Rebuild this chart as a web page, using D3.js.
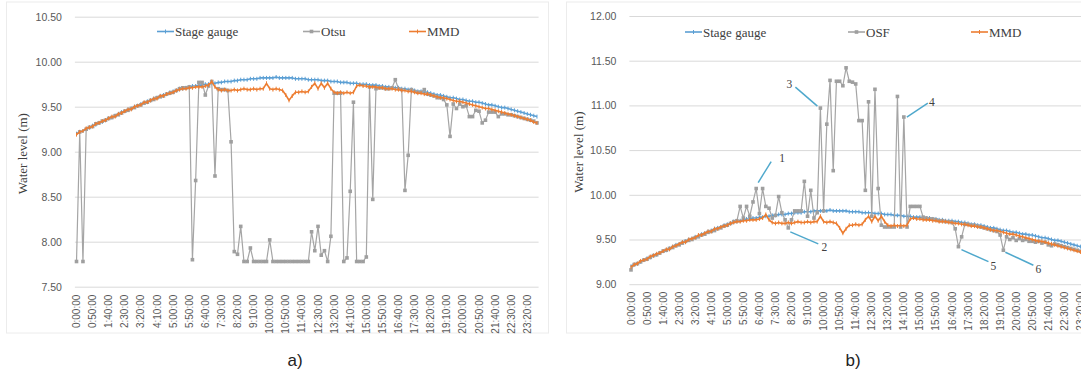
<!DOCTYPE html>
<html><head><meta charset="utf-8">
<script src="https://cdn.jsdelivr.net/npm/d3@7/dist/d3.min.js"></script>
<style>body{margin:0;background:#fff}svg{display:block}</style>
</head><body>
<svg id="chart" width="1081" height="372"></svg>
<script>
// ---------- data ----------
// categories: 10-minute timestamps from 0:00:00 to 23:50:00
const categories = d3.range(144).map(i => `${Math.floor(i / 6)}:${String((i % 6) * 10).padStart(2, "0")}:00`);
const tickLabels = ["0:00:00","0:50:00","1:40:00","2:30:00","3:20:00","4:10:00","5:00:00","5:50:00","6:40:00","7:30:00",
  "8:20:00","9:10:00","10:00:00","10:50:00","11:40:00","12:30:00","13:20:00","14:10:00","15:00:00","15:50:00",
  "16:40:00","17:30:00","18:20:00","19:10:00","20:00:00","20:50:00","21:40:00","22:30:00","23:20:00"];
const yTicksA = [7.5, 8.0, 8.5, 9.0, 9.5, 10.0, 10.5];
const yTicksB = [9.0, 9.5, 10.0, 10.5, 11.0, 11.5, 12.0];
const seriesNamesA = ["Stage gauge", "Otsu", "MMD"];
const seriesNamesB = ["Stage gauge", "OSF", "MMD"];

const stageGauge = [
  9.20,9.22,9.23,9.25,9.27,9.29,9.30,9.32,9.33,9.35,
  9.37,9.38,9.40,9.42,9.44,9.45,9.47,9.48,9.50,9.51,
  9.53,9.54,9.56,9.57,9.59,9.60,9.62,9.63,9.64,9.66,
  9.67,9.68,9.70,9.70,9.71,9.72,9.73,9.73,9.74,9.74,
  9.75,9.75,9.76,9.76,9.77,9.77,9.78,9.78,9.78,9.79,
  9.79,9.80,9.80,9.80,9.81,9.81,9.81,9.82,9.82,9.82,
  9.82,9.82,9.83,9.82,9.82,9.82,9.82,9.82,9.81,9.81,
  9.81,9.81,9.80,9.80,9.80,9.80,9.79,9.79,9.79,9.78,
  9.78,9.78,9.77,9.77,9.77,9.76,9.76,9.76,9.75,9.75,
  9.75,9.74,9.74,9.74,9.73,9.73,9.72,9.72,9.71,9.71,
  9.71,9.70,9.70,9.69,9.69,9.68,9.67,9.67,9.66,9.66,
  9.65,9.64,9.63,9.63,9.62,9.61,9.60,9.60,9.59,9.58,
  9.58,9.57,9.56,9.56,9.55,9.55,9.54,9.53,9.52,9.52,
  9.51,9.50,9.49,9.49,9.48,9.47,9.46,9.45,9.44,9.43,
  9.42,9.41,9.40,9.39];

const mmd = [
  9.19,9.22,9.23,9.26,9.27,9.28,9.31,9.32,9.34,9.35,
  9.37,9.39,9.39,9.42,9.43,9.45,9.47,9.47,9.50,9.51,
  9.52,9.55,9.55,9.57,9.59,9.59,9.62,9.62,9.64,9.65,
  9.66,9.68,9.69,9.70,9.70,9.71,9.71,9.72,9.72,9.72,
  9.73,9.74,9.78,9.72,9.69,9.68,9.69,9.68,9.68,9.69,
  9.68,9.69,9.70,9.69,9.69,9.70,9.69,9.70,9.70,9.76,
  9.70,9.69,9.70,9.69,9.68,9.63,9.57,9.62,9.66,9.66,
  9.67,9.66,9.67,9.72,9.76,9.70,9.76,9.71,9.76,9.70,
  9.66,9.65,9.66,9.65,9.66,9.65,9.66,9.73,9.74,9.73,
  9.73,9.72,9.72,9.72,9.71,9.71,9.70,9.70,9.70,9.69,
  9.69,9.68,9.68,9.67,9.67,9.66,9.65,9.65,9.64,9.64,
  9.63,9.62,9.61,9.60,9.60,9.59,9.58,9.57,9.56,9.56,
  9.55,9.54,9.53,9.52,9.51,9.50,9.49,9.48,9.48,9.47,
  9.46,9.45,9.44,9.43,9.42,9.41,9.40,9.39,9.38,9.37,
  9.36,9.35,9.33,9.32];

const otsu = [
  7.78,9.22,7.78,9.25,9.27,9.28,9.31,9.32,9.34,9.35,
  9.37,9.38,9.40,9.41,9.43,9.45,9.46,9.48,9.49,9.51,
  9.52,9.54,9.55,9.57,9.58,9.60,9.61,9.62,9.64,9.65,
  9.66,9.68,9.70,9.71,9.71,9.72,7.80,8.68,9.77,9.77,
  9.63,9.73,9.78,8.73,9.70,9.69,9.69,9.68,9.11,7.89,
  7.86,8.17,7.78,7.78,7.93,7.78,7.78,7.78,7.78,7.78,
  8.02,7.78,7.78,7.78,7.78,7.78,7.78,7.78,7.78,7.78,
  7.78,7.78,7.78,8.11,7.90,8.17,7.85,7.90,7.78,8.06,
  9.65,9.65,9.65,7.78,7.82,8.56,9.55,7.78,7.78,7.78,
  7.83,9.72,8.47,9.70,9.71,9.71,9.70,9.70,9.71,9.80,
  9.70,9.69,8.57,8.96,9.69,9.67,9.66,9.66,9.69,9.64,
  9.63,9.62,9.60,9.60,9.58,9.52,9.17,9.53,9.48,9.53,
  9.50,9.51,9.39,9.39,9.46,9.45,9.32,9.35,9.44,9.44,
  9.44,9.39,9.42,9.42,9.41,9.41,9.40,9.39,9.38,9.37,
  9.36,9.35,9.34,9.32];

const osf = [
  9.16,9.22,9.23,9.25,9.27,9.28,9.30,9.32,9.33,9.35,
  9.37,9.38,9.40,9.41,9.43,9.44,9.46,9.48,9.49,9.50,
  9.52,9.53,9.55,9.56,9.58,9.59,9.60,9.62,9.63,9.65,
  9.66,9.68,9.70,9.71,9.87,9.74,9.87,9.76,9.92,10.07,
  9.79,10.07,9.87,9.85,9.74,9.77,9.98,9.80,9.72,9.63,
  9.72,9.82,9.82,9.82,10.15,9.76,10.05,9.74,9.80,10.97,
  9.82,10.79,11.28,10.27,11.27,11.27,11.22,11.42,11.27,11.26,
  11.24,10.83,10.83,10.05,11.04,9.76,11.18,10.07,9.66,9.64,
  9.64,9.64,9.64,11.10,9.64,10.87,9.64,9.87,9.87,9.87,
  9.87,9.75,9.74,9.73,9.73,9.72,9.71,9.71,9.70,9.70,
  9.69,9.62,9.42,9.53,9.67,9.67,9.66,9.66,9.65,9.64,
  9.63,9.62,9.61,9.60,9.59,9.55,9.38,9.53,9.50,9.52,
  9.49,9.51,9.49,9.50,9.48,9.48,9.47,9.48,9.46,9.47,
  9.44,9.43,9.45,9.44,9.43,9.42,9.41,9.40,9.39,9.38,
  9.37,9.36,9.35,9.34];

// annotation labels of panel b, attached to OSF points (category index)
const annotLabels = ["1", "2", "3", "4", "5", "6"];
const annotIndex  = [39, 49, 59, 85, 102, 116];

// ---------- drawing ----------
const svg = d3.select("#chart");
const COL = { blue: "#5b9fd4", orange: "#ed7d31", gray: "#a5a5a5", grid: "#d9d9d9", text: "#595959" };
const SANS = "'Liberation Sans', Arial, sans-serif";
const SERIF = "'Liberation Serif', 'Times New Roman', serif";

function drawPanel(cfg) {
  const g = svg.append("g");
  const x = d3.scaleBand().domain(categories).range([cfg.left, cfg.left + cfg.band * categories.length]);
  const y = d3.scaleLinear().domain(d3.extent(cfg.yTicks)).range([cfg.bottom, cfg.top]);
  const cx = d => x(d) + x.bandwidth() / 2;
  const plotW = cfg.band * categories.length;

  // chart area border (faint)
  g.append("rect").attr("x", cfg.boxX).attr("y", 2).attr("width", cfg.boxW).attr("height", 331)
    .attr("fill", "none").attr("stroke", "#ececec").attr("stroke-width", 1);

  // y axis + gridlines
  const ya = g.append("g").attr("transform", `translate(${cfg.left},0)`)
    .call(d3.axisLeft(y).tickValues(cfg.yTicks).tickFormat(d3.format(".2f")).tickSize(-plotW).tickPadding(13));
  ya.select(".domain").remove();
  ya.selectAll("line").attr("stroke", COL.grid).attr("stroke-width", 1);
  ya.selectAll("text").attr("fill", COL.text).style("font-family", SANS).style("font-size", "10.5px");

  // x axis
  const xa = g.append("g").attr("transform", `translate(0,${cfg.bottom})`)
    .call(d3.axisBottom(x).tickValues(tickLabels).tickSize(0));
  xa.select(".domain").remove();
  xa.selectAll("text").attr("fill", COL.text).style("font-family", SANS).style("font-size", "10px")
    .attr("text-anchor", "end").attr("x", 0).attr("y", 0).attr("dy", "0.35em")
    .attr("transform", `translate(0,${cfg.labelOff}) rotate(-90)`);

  // y title
  g.append("text").attr("transform", `translate(${cfg.titleX},${(cfg.top + cfg.bottom) / 2 + 2}) rotate(-90)`)
    .attr("text-anchor", "middle").attr("fill", "#404040").style("font-family", SERIF).style("font-size", "13px")
    .text("Water level (m)");

  const line = d3.line().x((d, i) => cx(categories[i])).y(d => y(d));
  const series = [
    { name: cfg.names[0], data: stageGauge, color: COL.blue, w: 1.6, mark: "plus" },
    { name: cfg.names[1], data: cfg.method, color: COL.gray, w: 1.2, mark: "square" },
    { name: cfg.names[2], data: mmd, color: COL.orange, w: 1.6, mark: "plus" }
  ];
  series.forEach(s => {
    g.append("path").datum(s.data).attr("d", line).attr("fill", "none")
      .attr("stroke", s.color).attr("stroke-width", s.w).attr("stroke-linejoin", "round");
    if (s.mark === "square") {
      g.append("g").selectAll("rect").data(s.data).join("rect")
        .attr("x", (d, i) => cx(categories[i]) - 1.8).attr("y", d => y(d) - 1.8)
        .attr("width", 3.6).attr("height", 3.6).attr("fill", "#9f9f9f");
    } else {
      g.append("path").attr("d", s.data.map((d, i) => {
        const px = cx(categories[i]), py = y(d);
        return `M${px},${py - 2}V${py + 2}`;
      }).join("")).attr("stroke", s.color).attr("stroke-width", 1);
    }
  });

  // legend
  cfg.legend.forEach((lx, k) => {
    const s = series[k];
    const lg = g.append("g").attr("transform", `translate(${lx},${cfg.legY})`);
    lg.append("line").attr("x1", 0).attr("x2", 17).attr("stroke", s.color).attr("stroke-width", 1.6);
    if (s.mark === "square") lg.append("rect").attr("x", 6.7).attr("y", -1.8).attr("width", 3.6).attr("height", 3.6).attr("fill", "#9f9f9f");
    else lg.append("line").attr("x1", 8.5).attr("x2", 8.5).attr("y1", -2).attr("y2", 2).attr("stroke", s.color);
    lg.append("text").attr("x", 18).attr("y", 4.5).attr("fill", "#404040")
      .style("font-family", SERIF).style("font-size", "13px").text(s.name);
  });

  g.append("text").attr("x", cfg.capX).attr("y", 366).attr("text-anchor", "middle")
    .style("font-family", SANS).style("font-size", "17px").attr("fill", "#222").text(cfg.caption);
  return { x: cx, y, g };
}

drawPanel({ left: 74.9, band: 3.22, top: 16.7, bottom: 286.7, yTicks: yTicksA, method: otsu,
  names: seriesNamesA, labelOff: 8, titleX: 27, legend: [157, 303, 409], legY: 31.5,
  boxX: 6.5, boxW: 542, capX: 295, caption: "a)" });

const pb = drawPanel({ left: 629.4, band: 3.21, top: 16, bottom: 284.2, yTicks: yTicksB, method: osf,
  names: seriesNamesB, labelOff: 7.5, titleX: 583, legend: [685, 848, 971], legY: 32,
  boxX: 566.5, boxW: 600, capX: 853, caption: "b)" });

// callouts (offsets from the marked OSF point: leader start, leader end, label)
const annotOffsets = [
  [[2, -6], [15, -27], [26, -31]],
  [[2, 4], [30, 16], [36, 19]],
  [[-3, -2], [-25, -21], [-31, -24]],
  [[3, 0], [24, -14], [28, -15]],
  [[3, 3], [30, 15], [35, 19]],
  [[2, 2], [30, 15], [35, 19]]
];
annotLabels.forEach((lab, k) => {
  const i = annotIndex[k];
  const px = pb.x(categories[i]), py = pb.y(osf[i]);
  const [a, b, t] = annotOffsets[k];
  pb.g.append("line").attr("x1", px + a[0]).attr("y1", py + a[1]).attr("x2", px + b[0]).attr("y2", py + b[1])
    .attr("stroke", "#4fa8cc").attr("stroke-width", 1.5);
  pb.g.append("text").attr("x", px + t[0]).attr("y", py + t[1] + 4).attr("text-anchor", "middle")
    .attr("fill", "#404040").style("font-family", SERIF).style("font-size", "11.5px").text(lab);
});
</script>
</body></html>
